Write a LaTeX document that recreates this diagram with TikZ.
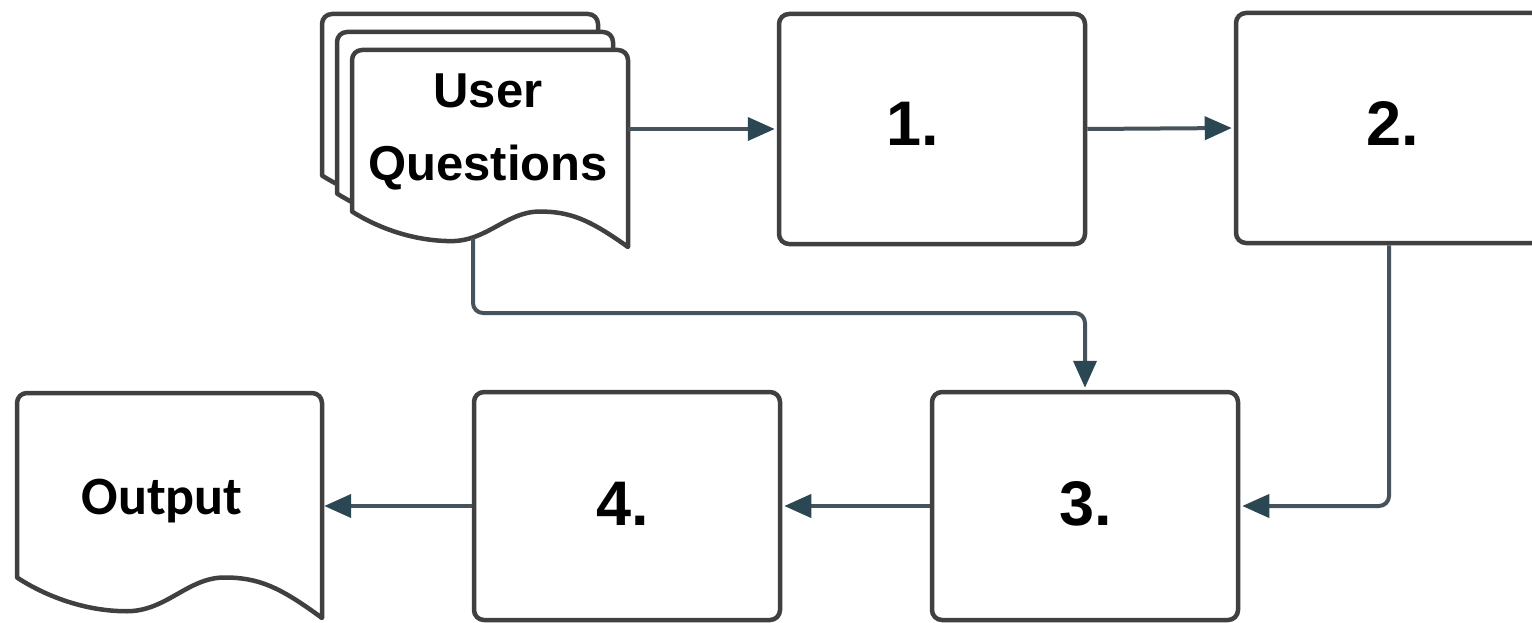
\documentclass[tikz,border=0pt]{standalone}
\usepackage{fontspec}
\setmainfont{Liberation Sans}
\newfontfamily\outfont{Carlito}
\usetikzlibrary{arrows.meta}
\definecolor{bordc}{HTML}{404040}
\definecolor{connc}{HTML}{46535A}
\definecolor{headc}{HTML}{2B4753}
% x y w h
\newcommand\mydocshape[4]{%
  \draw[docst] (#1,{#2+0.82*#4}) [rounded corners=10pt] -- (#1,#2) -- ({#1+#3},#2) -- ({#1+#3},{#2+20}) [sharp corners] -- ({#1+#3},{#2+#4})
  .. controls ({#1+0.86*#3},{#2+0.86*#4}) and ({#1+0.79*#3},{#2+0.82*#4}) .. ({#1+0.68*#3},{#2+0.82*#4})
  .. controls ({#1+0.56*#3},{#2+0.82*#4}) and ({#1+0.49*#3},{#2+0.97*#4}) .. ({#1+0.36*#3},{#2+0.97*#4})
  .. controls ({#1+0.22*#3},{#2+0.97*#4}) and ({#1+0.09*#3},{#2+0.90*#4}) .. cycle;}
\begin{document}
\begin{tikzpicture}[x=1pt,y=-1pt,
  docst/.style={draw=bordc,line width=4.5pt,fill=white,line join=round},
  boxst/.style={draw=bordc,line width=4.5pt,rounded corners=10pt,fill=white,minimum width=306pt,inner sep=0pt},
  numst/.style={font=\fontsize{63}{63}\selectfont\bfseries,inner sep=0pt,anchor=base},
  conn/.style={draw=connc,line width=4pt,rounded corners=10pt,shorten >=2pt,-{Triangle[length=27pt,width=23pt,color=headc]}}]
\useasboundingbox (0,0) rectangle (1532,623);
\clip (0,0) rectangle (1532,623);
\fill[white] (0,0) rectangle (1532,623);
% document stacks
\mydocshape{322}{14}{276}{197}
\mydocshape{337}{32}{276}{197}
\mydocshape{352}{50}{276}{197}
\node[inner sep=0pt,minimum width=276pt,minimum height=197pt] (uq) at (490,148.5) {};
\node[inner sep=0pt,align=center,font=\fontsize{49}{73}\selectfont\bfseries] (uqlabel) at (488,132) {User\\Questions};
\coordinate (uqbot) at (473,238);
\mydocshape{17}{393}{305}{225}
\node[inner sep=0pt,minimum width=305pt,minimum height=225pt] (out) at (169.5,505.5) {};
\node[inner sep=0pt,anchor=base,font={\outfont\fontsize{54}{54}\selectfont\bfseries}] (outlabel) at (162,514) {Output};
% boxes
\node[boxst,minimum height=230pt] (b1) at (932,129) {};
\node[boxst,minimum height=230pt] (b2) at (1389,128) {};
\node[boxst,minimum height=228pt] (b3) at (1085,506) {};
\node[boxst,minimum height=228pt] (b4) at (627,506) {};
\node[numst] (l1) at (913,146) {1.};
\node[numst] (l2) at (1393,146) {2.};
\node[numst] (l3) at (1086,525) {3.};
\node[numst] (l4) at (623,525) {4.};
% connectors
\coordinate (lane) at (0,313);
\draw[conn] (uq.east |- b1.west) -- (b1.west);
\draw[conn] (b1.east) -- (b2.west);
\draw[conn] (uqbot) -- (uqbot |- lane) -| (b3.north);
\draw[conn] (b2.south) |- (b3.east);
\draw[conn] (b3.west) -- (b4.east);
\draw[conn] (b4.west) -- (out.east |- b4.west);
\end{tikzpicture}
\end{document}
